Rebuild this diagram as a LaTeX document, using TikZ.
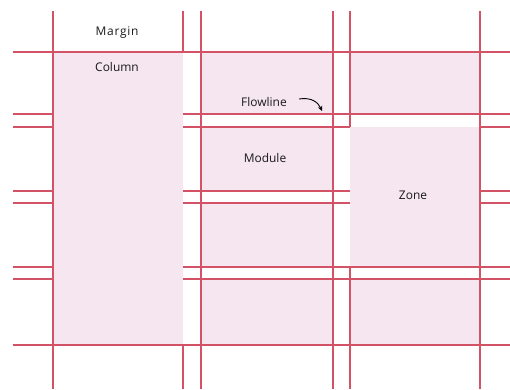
\documentclass[tikz,border=0pt]{standalone}
\usepackage{fontspec}
\setmainfont{Open Sans}
\usetikzlibrary{arrows.meta}
\definecolor{gridline}{RGB}{212,82,102}
\definecolor{cellpink}{RGB}{246,230,240}
\definecolor{labeltext}{RGB}{25,25,25}
\tikzset{
  gl/.style={draw=gridline, line width=1.2bp},
  cell/.style={fill=cellpink, draw=none},
  lbl/.style={text=labeltext, font=\fontsize{12}{14}\selectfont, inner sep=0pt},
}
\begin{document}
\begin{tikzpicture}[x=1bp,y=-1bp]
\useasboundingbox (0,0) rectangle (510,389);
% fills
\fill[cell] (53,52) rectangle (183,345);
\fill[cell] (201,52) rectangle (333,114);
\fill[cell] (350,52) rectangle (480,114);
\fill[cell] (201,127) rectangle (333,191);
\fill[cell] (201,203) rectangle (333,267);
\fill[cell] (201,279) rectangle (333,345);
\fill[cell] (350,279) rectangle (480,345);
\fill[cell] (350,127) rectangle (480,267);
% horizontal lines
\draw[gl] (13,52) -- (510,52);
\draw[gl] (13,114) -- (53,114) (183,114) -- (510,114);
\draw[gl] (13,127) -- (53,127) (183,127) -- (350,127) (480,127) -- (510,127);
\draw[gl] (13,191) -- (53,191) (183,191) -- (350,191) (480,191) -- (510,191);
\draw[gl] (13,203) -- (53,203) (183,203) -- (350,203) (480,203) -- (510,203);
\draw[gl] (13,267) -- (53,267) (183,267) -- (510,267);
\draw[gl] (13,279) -- (53,279) (183,279) -- (510,279);
\draw[gl] (13,345) -- (510,345);
% vertical lines
\draw[gl] (53,11) -- (53,389);
\draw[gl] (183,11) -- (183,52) (183,345) -- (183,389);
\draw[gl] (201,11) -- (201,389);
\draw[gl] (333,11) -- (333,389);
\draw[gl] (350,11) -- (350,127) (350,267) -- (350,389);
\draw[gl] (480,11) -- (480,389);
% labels
\node[lbl] (margin) at (117,33) {\addfontfeatures{LetterSpace=6}Margin};
\node[lbl] (column) at (117,67) {Column};
\node[lbl] (flowline) at (264,102) {Flowline};
\node[lbl] (module) at (265,158) {Module};
\node[lbl] (zone) at (413,195) {Zone};
% flowline arrow
\coordinate (fa) at (299,99);
\coordinate (fb) at (322,111);
\draw[black, line width=0.9bp, -{Stealth[length=5bp,width=4.5bp]}] (fa) .. controls (311,97) and (318,102) .. (fb);
\end{tikzpicture}
\end{document}
